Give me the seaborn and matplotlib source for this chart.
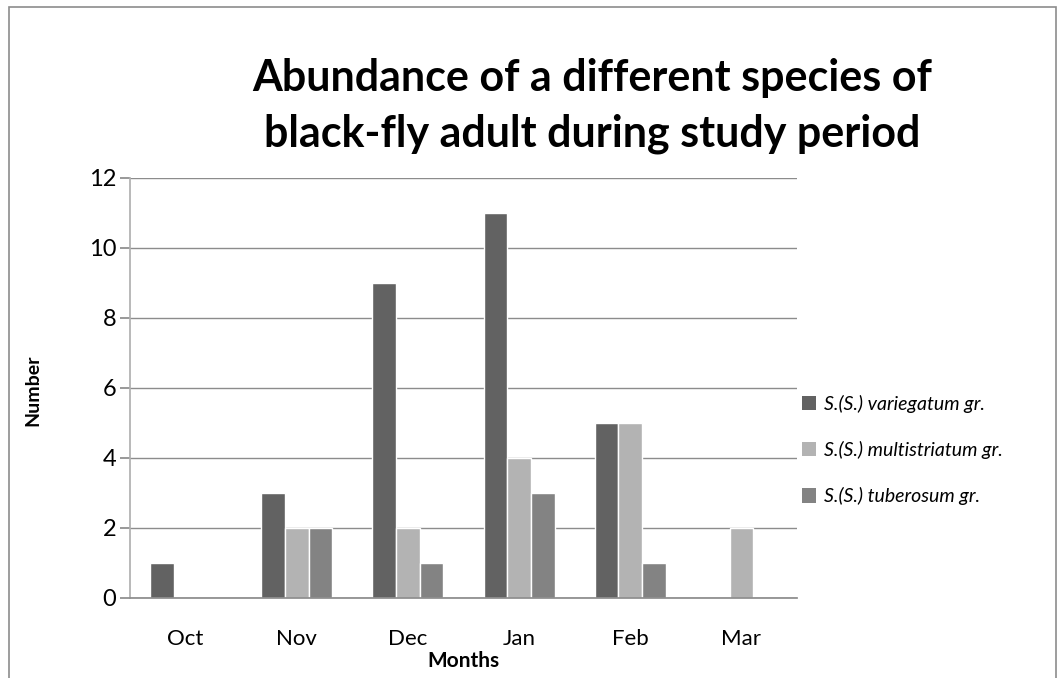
import pandas as pd
import matplotlib.pyplot as plt
import seaborn as sns
from matplotlib.patches import Rectangle, Patch

months = ["Oct", "Nov", "Dec", "Jan", "Feb", "Mar"]
species = ["S.(S.) variegatum gr.", "S.(S.) multistriatum gr.", "S.(S.) tuberosum gr."]
variegatum = [1, 3, 9, 11, 5, 0]
multistriatum = [0, 2, 2, 4, 5, 2]
tuberosum = [0, 2, 1, 3, 1, 0]
colors = ["#626262", "#b3b3b3", "#838383"]

TITLE = "Abundance of a different species of\nblack-fly adult during study period"


def main():
    rows = []
    for sp, vals in zip(species, [variegatum, multistriatum, tuberosum]):
        for m, v in zip(months, vals):
            rows.append({"Month": m, "Species": sp, "Number": v})
    df = pd.DataFrame(rows)

    sns.set_theme(style="white")
    plt.rcParams["font.family"] = ["Lato", "DejaVu Sans"]
    plt.rcParams["text.color"] = "black"
    plt.rcParams["axes.labelcolor"] = "black"

    fig = plt.figure(figsize=(10.59, 6.78), dpi=100)
    ax = fig.add_axes([130 / 1059, 1 - 598 / 678, 667 / 1059, 420 / 678])

    sns.barplot(data=df, x="Month", y="Number", hue="Species", order=months,
                hue_order=species, palette=colors, width=0.64,
                edgecolor="white", linewidth=1, ax=ax, zorder=2, legend=False)

    # hide the empty (zero) bars so the base line stays visible
    for p in ax.patches:
        if p.get_height() == 0:
            p.set_visible(False)

    ax.set_ylim(0, 12)
    ax.set_yticks(range(0, 13, 2))
    ax.set_xlim(-0.5, 5.5)
    ax.yaxis.grid(True, color="#8c8c8c", linewidth=1)
    ax.set_axisbelow(True)
    for s in ["top", "right"]:
        ax.spines[s].set_visible(False)
    ax.spines["left"].set_color("#b0b0b0")
    ax.spines["bottom"].set_color("#8c8c8c")
    ax.spines["bottom"].set_zorder(5)
    ax.tick_params(axis="y", left=True, length=7, color="#8c8c8c",
                   labelsize=17, pad=3, labelcolor="black")
    ax.tick_params(axis="x", bottom=False, labelsize=16, pad=16, labelcolor="black")

    ax.set_xlabel("Months", fontsize=15, fontweight="bold", labelpad=2)
    ax.set_ylabel("")
    fig.text(33 / 1059, 1 - 390 / 678, "Number", rotation=90, fontsize=14,
             fontweight="bold", ha="center", va="center")

    fig.text(592 / 1059, 1 - 106 / 678, TITLE, ha="center", va="center",
             fontsize=31, fontweight="bold", linespacing=1.45)

    handles = [Patch(facecolor=c, edgecolor="none") for c in colors]
    fig.legend(handles, species, loc="center left", bbox_to_anchor=(784 / 1059, 1 - 450 / 678),
               frameon=False, handlelength=0.75, handleheight=0.75, handletextpad=0.4,
               labelspacing=1.45, prop={"style": "italic", "size": 14})

    fig.patches.append(Rectangle((9 / 1059, -0.1), 1047 / 1059, 1.1 - 7 / 678,
                                 transform=fig.transFigure, fill=False,
                                 edgecolor="#8c8c8c", linewidth=1.2))

    fig.savefig("out.png", dpi=100)


if __name__ == "__main__":
    main()
